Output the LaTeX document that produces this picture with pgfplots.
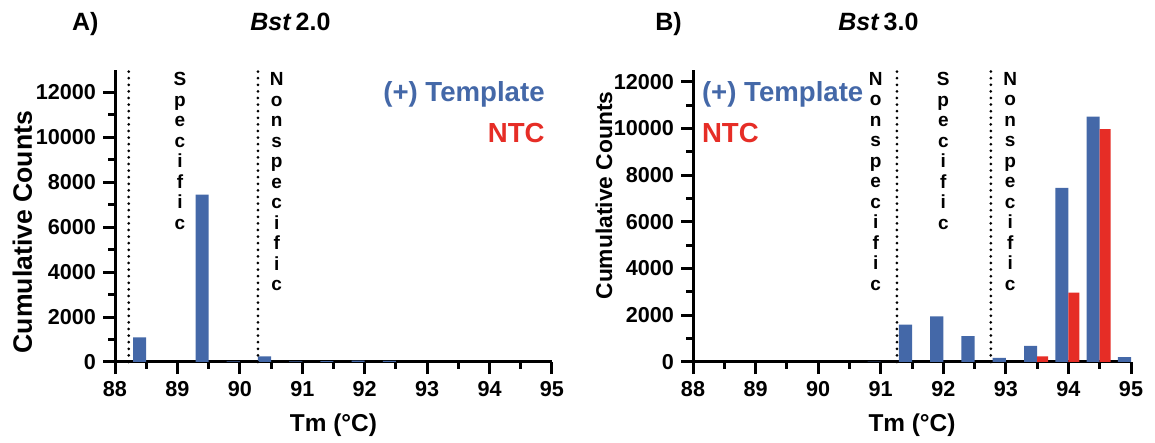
\documentclass[border=0pt]{standalone}
\usepackage{pgfplots}
\pgfplotsset{compat=1.18}
\usepackage{fontspec}
\setmainfont{Liberation Sans}

\definecolor{tblue}{RGB}{68,104,168}
\definecolor{tred}{RGB}{230,45,38}

% common look of both panels
\pgfplotsset{
  melt/.style={
    scale only axis, width=218.5pt, height=146pt,
    anchor=south west,
    axis lines=left, axis line style={-, line width=1.5pt},
    xmin=88, xmax=95, ymin=0,
    xtick={88,...,95}, minor x tick num=1,
    ytick={0,2000,...,12000}, minor y tick num=1,
    scaled y ticks=false,
    tick align=outside,
    major tick length=6pt, minor tick length=3.5pt,
    tick style={black, line width=1.5pt},
    tick label style={font=\fontsize{10.8}{12}\selectfont\bfseries},
    /pgf/number format/assume math mode=true,
    /pgf/number format/1000 sep={},
    xlabel={Tm (°C)},
    xlabel style={font=\fontsize{12.2}{14}\selectfont\bfseries,
      at={(axis description cs:0.5,-0.216)}, anchor=center},
    ylabel={Cumulative Counts},
    ybar,
    clip=false,
  },
}
\tikzset{
  vtxt/.style={font=\fontsize{9.5}{10.25}\selectfont\bfseries,
    align=center, anchor=north, inner sep=0pt},
  sep/.style={line width=1.5pt, dash pattern=on 0pt off 3.3pt, line cap=round},
  ttl/.style={anchor=base west, inner sep=0pt, font=\fontsize{12.5}{15}\selectfont\bfseries},
}

\begin{document}
\begin{tikzpicture}
\useasboundingbox (0,0) rectangle (577.5pt,221.5pt);

% panel titles
\node[ttl] at (35.8pt,206.2pt) {A)};
\node[ttl] at (125pt,206.2pt) {\textit{Bst}\,2.0};
\node[ttl] at (327.5pt,206.2pt) {B)};
\node[ttl] at (419pt,206.2pt) {\textit{Bst}\,3.0};

% A) Bst 2.0
\begin{axis}[melt, at={(57.5pt,40.5pt)}, ymax=13000,
  ylabel style={font=\fontsize{13.3}{15}\selectfont\bfseries,
    at={(axis description cs:-0.2117,0.445)}, anchor=center}]
  \addplot[fill=tblue, draw=none, bar width=0.21, bar shift=-0.105] coordinates {
    (88.5,1100) (89.5,7450) (90.0,30) (90.5,250)
    (91.0,30) (91.5,40) (92.0,60) (92.5,50)
  };
  \draw[sep] (axis cs:88.22,0) -- (axis cs:88.22,13000);
  \draw[sep] (axis cs:90.29,0) -- (axis cs:90.29,13000);
  \node[vtxt] at (axis cs:89.04,12900) {S\\p\\e\\c\\i\\f\\i\\c};
  \node[vtxt] at (axis cs:90.59,12900) {N\\o\\n\\s\\p\\e\\c\\i\\f\\i\\c};
\end{axis}

% B) Bst 3.0
\begin{axis}[melt, at={(346.5pt,40.5pt)}, width=219pt, ymax=12500,
  ylabel style={font=\fontsize{11.4}{13}\selectfont\bfseries,
    at={(axis description cs:-0.203,0.57)}, anchor=center}]
  \addplot[fill=tblue, draw=none, bar width=0.21, bar shift=-0.105] coordinates {
    (91.0,20) (91.5,1600) (92.0,1950) (92.5,1110) (93.0,180)
    (93.5,690) (94.0,7450) (94.5,10500) (95.0,210)
  };
  \addplot[fill=tred, draw=none, bar width=0.175, bar shift=0.0875] coordinates {
    (93.5,240) (94.0,2970) (94.5,9970)
  };
  \draw[sep] (axis cs:91.26,0) -- (axis cs:91.26,12500);
  \draw[sep] (axis cs:92.76,0) -- (axis cs:92.76,12500);
  \node[vtxt] at (axis cs:90.92,12420) {N\\o\\n\\s\\p\\e\\c\\i\\f\\i\\c};
  \node[vtxt] at (axis cs:92.0,12420) {S\\p\\e\\c\\i\\f\\i\\c};
  \node[vtxt] at (axis cs:93.07,12420) {N\\o\\n\\s\\p\\e\\c\\i\\f\\i\\c};
\end{axis}

% series labels
\node[anchor=base east, inner sep=0pt, text=tblue, font=\fontsize{13.8}{16}\selectfont\bfseries] at (272.5pt,170.5pt) {(+) Template};
\node[anchor=base east, inner sep=0pt, text=tred, font=\fontsize{13.8}{16}\selectfont\bfseries] at (272.5pt,150.3pt) {NTC};
\node[anchor=base west, inner sep=0pt, text=tblue, font=\fontsize{13.8}{16}\selectfont\bfseries] at (350.8pt,170.5pt) {(+) Template};
\node[anchor=base west, inner sep=0pt, text=tred, font=\fontsize{13.8}{16}\selectfont\bfseries] at (350.8pt,150.3pt) {NTC};
\end{tikzpicture}
\end{document}
